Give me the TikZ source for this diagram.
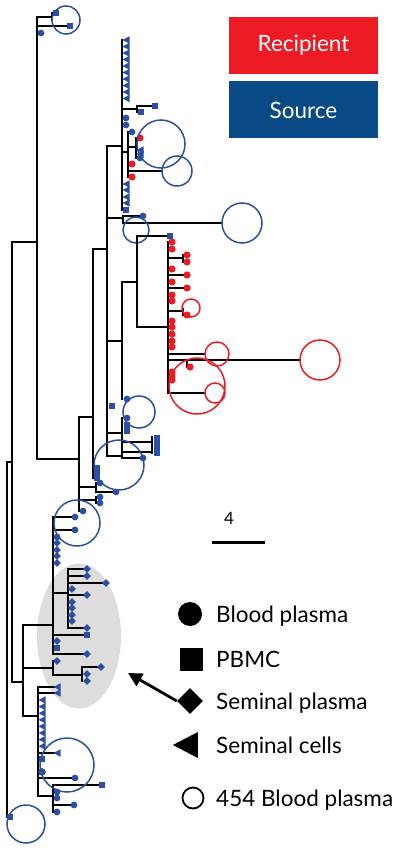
\documentclass[tikz,border=0pt]{standalone}
\usepackage{fontspec}
\setmainfont{Lato}
\usetikzlibrary{arrows.meta,shapes.geometric}
\definecolor{tblue}{RGB}{43,79,162}
\definecolor{tred}{RGB}{237,28,36}
\definecolor{srcblue}{RGB}{10,75,135}
\definecolor{cladegray}{RGB}{221,221,221}
% leaf markers
\newcommand{\bdot}[1]{\fill[tblue] (#1) circle (3.4pt);}
\newcommand{\rdot}[1]{\fill[tred] (#1) circle (3.6pt);}
\newcommand{\bsq}[1]{\fill[tblue] (#1) ++(-3.4pt,-3.4pt) rectangle ++(6.8pt,6.8pt);}
\newcommand{\bdia}[1]{\fill[tblue] (#1) ++(-3.9pt,0pt) -- ++(3.9pt,3.9pt) -- ++(3.9pt,-3.9pt) -- ++(-3.9pt,-3.9pt) -- cycle;}
\newcommand{\btri}[1]{\fill[tblue] (#1) ++(-3.5pt,0pt) -- ++(7pt,3.7pt) -- ++(0pt,-7.4pt) -- cycle;}
\begin{document}
\begin{tikzpicture}[x=1pt,y=-1pt,
  br/.style={line width=1.8pt,line cap=rect},
  ring/.style={draw=tblue,line width=1.5pt},
  rring/.style={draw=tred,line width=1.5pt},
  box/.style={text=white,minimum width=149pt,minimum height=57pt,inner sep=0pt,
    font=\fontsize{22.5}{26}\selectfont},
  lab/.style={anchor=base west,inner sep=0pt,font=\fontsize{22.5}{26}\selectfont},
  key/.style={fill=black,inner sep=0pt},
  arr/.style={line width=2.8pt,-{Triangle[length=14pt,width=14pt]}}]
\useasboundingbox (0,0) rectangle (400,850);
\node[ellipse,fill=cladegray,minimum width=84pt,minimum height=145pt] (clade) at (79,636) {};
% trunk
\draw[br] (7,462) -- (7,817) (7,462) -- (12,462) (7,817) -- (10,817);
\draw[br] (12,242) -- (12,682) (12,242) -- (37,242) (12,682) -- (23,682);
\bsq{10,817}
\draw[ring] (26,824) circle (19pt);
% top group
\draw[br] (37,17) -- (37,459);
\draw[br] (37,17) -- (52,17) (52,13) -- (52,20) (37,26) -- (70,26);
\bsq{56,13} \bsq{70,26} \bdot{41,33}
\draw[ring] (66,20) circle (14pt);
\draw[br] (37,459) -- (79,459) (79,417) -- (79,511);
\draw[br] (79,417) -- (93,417) (93,249) -- (93,478);
\draw[br] (93,249) -- (107,249) (107,146) -- (107,456);
% triangle column
\draw[br] (107,146) -- (122,146) (122,40) -- (122,210);
\foreach \i in {0,...,9} \btri{126,40+6.5*\i}
\draw[br] (122,109) -- (137,109) (137,106) -- (137,112) (137,106) -- (155,106);
\bsq{155,106} \bsq{141,112}
\bdot{126,118} \bdot{126,125}
\draw[br] (122,152) -- (128,152) (128,132) -- (128,177);
\draw[br] (128,147) -- (136,147) (136,138) -- (136,158);
\bdot{132,132} \rdot{140,138} \btri{140,150} \btri{140,154} \bdot{140,158}
\rdot{132,164} \rdot{132,177}
\draw[br] (128,171) -- (162,171);
\draw[ring] (161,144) circle (24pt);
\draw[ring] (177,171) circle (15pt);
\foreach \y in {184,190,197,203} \btri{126,\y}
\bsq{126,210}
\draw[br] (107,218) -- (123,218) (123,216) -- (123,223) (123,216) -- (143,216) (123,223) -- (222,223);
\bdot{143,216}
\draw[ring] (136,230) circle (13pt);
\draw[ring] (242,223) circle (20pt);
% recipient clade
\draw[br] (107,341) -- (122,341) (122,282) -- (122,399);
\draw[br] (122,282) -- (137,282) (137,236) -- (137,327) (137,236) -- (166,236);
\bsq{170,236}
\draw[br] (137,327) -- (168,327) (168,242) -- (168,393);
\foreach \y in {242,249,269,282,295,301,321,327,334,341,347,372,376,380} \rdot{172,\y}
\draw[br] (168,258) -- (183,258) (183,255) -- (183,262);
\rdot{187,255} \rdot{187,262}
\draw[br] (168,275) -- (187,275) (168,288) -- (187,288);
\rdot{187,275} \rdot{187,288}
\draw[br] (168,311) -- (183,311) (183,309) -- (183,315);
\rdot{187,315}
\draw[rring] (191,308) circle (9pt);
\draw[br] (168,354) -- (205,354) (168,360) -- (300,360) (187,360) -- (187,367) (168,393) -- (205,393);
\rdot{190,367}
\draw[rring] (217,354) circle (12pt);
\draw[rring] (320,360) circle (20pt);
\draw[rring] (215,393) circle (10pt);
\draw[rring] (197,386) circle (28pt);
% lower source part
\bdot{127,399} \bsq{112,406}
\draw[ring] (139,412) circle (16pt);
\draw[br] (107,433) -- (122,433) (122,418) -- (122,458);
\bdot{127,418} \bsq{127,425} \bsq{127,431}
\draw[br] (122,442) -- (152,442) (152,437) -- (152,453) (122,452) -- (152,452);
\foreach \y in {438,443,448,453} \bsq{157,\y}
\draw[br] (107,456) -- (122,456) (122,458) -- (143,458);
\bdot{143,458}
\foreach \y in {468,473,478} \bsq{97,\y}
\draw[br] (79,487) -- (96,487) (96,483) -- (96,492) (96,492) -- (116,492);
\bdot{100,483} \bdot{116,492}
\draw[br] (79,500) -- (96,500) (96,497) -- (96,503);
\bdot{100,497} \bdot{100,503} \bdot{83,511}
\draw[ring] (119,465) circle (25pt);
% seminal plasma clade
\draw[br] (23,625) -- (23,716) (23,625) -- (53,625) (53,517) -- (53,654);
\draw[br] (53,517) -- (75,517) (53,530) -- (75,530);
\bdot{75,517} \bdot{75,530} \bdot{57,537}
\draw[ring] (77,523) circle (23pt);
\foreach \y in {543,550,556,563} \bdia{57,\y}
\draw[br] (53,593) -- (68,593) (68,569) -- (68,628);
\draw[br] (68,569) -- (87,569) (68,576) -- (87,576) (68,583) -- (106,583) (68,595) -- (87,595) (68,628) -- (87,628);
\bdia{87,569} \bdia{87,576} \bdia{106,583} \bdia{87,595} \bdia{87,628}
\foreach \y in {589,602,608,615,621} \bdia{72,\y}
\draw[br] (53,635) -- (87,635) (53,654) -- (87,654);
\bsq{87,635} \bdia{57,641} \bsq{57,648} \bdia{87,654}
\draw[br] (23,668) -- (53,668) (53,661) -- (53,675) (53,675) -- (82,675) (82,667) -- (82,681) (82,667) -- (101,667);
\bdia{57,661} \bdia{101,667} \bdia{87,674} \bdia{87,681}
% seminal cells clade
\draw[br] (23,716) -- (38,716) (38,687) -- (38,796);
\draw[br] (38,687) -- (55,687) (38,693) -- (55,693) (38,753) -- (55,753);
\btri{57,687} \btri{57,693} \btri{57,753}
\foreach \i in {0,...,7} \btri{42,700+6.6*\i}
\bsq{42,759} \bdot{42,772}
\draw[br] (38,778) -- (75,778);
\bdot{75,778}
\draw[br] (38,796) -- (53,796) (53,785) -- (53,812) (53,785) -- (102,785) (53,805) -- (74,805);
\bsq{102,785} \bdot{57,792} \bdot{57,798} \bdot{74,805} \bdot{57,812}
\draw[ring] (67,765) circle (27pt);
% boxes
\node[box,fill=tred] (recip) at (303.5,45.5) {Recipient};
\node[box,fill=srcblue] (source) at (303.5,110) {Source};
% scale bar
\node[font=\fontsize{17}{20}\selectfont] (sclab) at (229,518) {4};
\draw[line width=3pt] (212,542) -- (265,542);
% key
\node[key,circle,minimum size=24pt] (kbp) at (190,614) {};
\node[key,rectangle,minimum size=23pt] (kpb) at (191,659) {};
\node[key,diamond,minimum size=26pt] (ksp) at (190,701) {};
\node[key,isosceles triangle,shape border rotate=180,isosceles triangle stretches,
  minimum height=25pt,minimum width=26pt] (ksc) at (190,745) {};
\node[circle,draw=black,line width=1.8pt,inner sep=0pt,minimum size=21pt] (kos) at (193,798) {};
\node[lab] (tbp) at (216,622) {Blood plasma};
\node[lab] (tpb) at (216,667) {PBMC};
\node[lab] (tsp) at (216,709) {Seminal plasma};
\node[lab] (tsc) at (216,753) {Seminal cells};
\node[lab] (tos) at (216,806) {454 Blood plasma};
\coordinate (tip) at (128,673);
\draw[arr] (ksp.west) -- (tip);
\end{tikzpicture}
\end{document}
